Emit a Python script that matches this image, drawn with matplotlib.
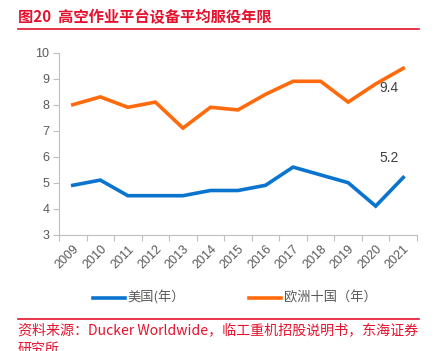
import matplotlib
matplotlib.use('Agg')
import matplotlib.pyplot as plt
from matplotlib.lines import Line2D

plt.rcParams['font.family'] = ['Noto Sans CJK SC', 'DejaVu Sans']

years = ['2009', '2010', '2011', '2012', '2013', '2014', '2015',
         '2016', '2017', '2018', '2019', '2020', '2021']
usa = [4.9, 5.1, 4.5, 4.5, 4.5, 4.7, 4.7, 4.9, 5.6, 5.3, 5.0, 4.1, 5.2]
europe = [8.0, 8.3, 7.9, 8.1, 7.1, 7.9, 7.8, 8.4, 8.9, 8.9, 8.1, 8.8, 9.4]

BLUE = '#0A74CF'
ORANGE = '#FF6A0D'
RED = '#E5122E'
GRAY = '#595959'
AXIS = '#BFBFBF'
NUMFONT = ['Liberation Sans', 'DejaVu Sans']

W, H = 441, 351
fig = plt.figure(figsize=(W / 100, H / 100), dpi=100)
ax = fig.add_axes([59 / W, 1 - 234.7 / H, (417 - 59) / W, (234.7 - 52.7) / H])

x = list(range(len(years)))
ax.plot(x, usa, color=BLUE, linewidth=2.6, solid_joinstyle='miter')
ax.plot(x, europe, color=ORANGE, linewidth=2.6, solid_joinstyle='miter')

ax.annotate(f'{europe[-1]:.1f}', (x[-1], europe[-1]), xytext=(-10, -14),
            textcoords='offset points', ha='center', va='center',
            fontsize=10, color='#404040', family=NUMFONT)
ax.annotate(f'{usa[-1]:.1f}', (x[-1], usa[-1]), xytext=(-10, 14),
            textcoords='offset points', ha='center', va='center',
            fontsize=10, color='#404040', family=NUMFONT)

ax.set_xlim(-0.5, len(years) - 0.5)
ax.set_ylim(3, 10)
ax.set_yticks(range(3, 11))
ax.set_xticks([i - 0.5 for i in range(len(years) + 1)])
ax.set_xticklabels([])
ax.set_xticks(x, minor=True)
ax.set_xticklabels(years, minor=True, rotation=45, ha='right',
                   rotation_mode='anchor', fontsize=9, color=GRAY, family=NUMFONT)
for lab in ax.get_yticklabels():
    lab.set_family(NUMFONT)
ax.tick_params(axis='x', which='minor', length=0, pad=6)
ax.tick_params(axis='x', which='major', length=4, color=AXIS, width=0.8)
ax.tick_params(axis='y', length=4, color=AXIS, width=0.8, labelsize=9,
               labelcolor=GRAY, pad=3)
for s in ['top', 'right']:
    ax.spines[s].set_visible(False)
for s in ['left', 'bottom']:
    ax.spines[s].set_color(AXIS)
    ax.spines[s].set_linewidth(0.8)

# title block
fig.text(18 / W, 1 - 17 / H, '图20  高空作业平台设备平均服役年限', fontsize=11,
         fontweight='bold', color=RED, ha='left', va='center')
fig.add_artist(Line2D([18 / W, 419 / W], [1 - 29 / H, 1 - 29 / H],
                      color=RED, linewidth=1.2))

# legend
ly = 1 - 298 / H
fig.add_artist(Line2D([93 / W, 125 / W], [ly, ly], color=BLUE, linewidth=2.6))
fig.text(127 / W, ly, '美国(年）', fontsize=9.5, color=GRAY, ha='left', va='center')
fig.add_artist(Line2D([249 / W, 281 / W], [ly, ly], color=ORANGE, linewidth=2.6))
fig.text(284 / W, ly, '欧洲十国（年）', fontsize=9.5, color=GRAY, ha='left', va='center')

# source
fig.add_artist(Line2D([18 / W, 419 / W], [1 - 318.5 / H, 1 - 318.5 / H],
                      color=RED, linewidth=1.2))
fig.text(18 / W, 1 - 331 / H, '资料来源：Ducker Worldwide，临工重机招股说明书，东海证券',
         fontsize=10.1, color=RED, ha='left', va='center')
fig.text(18 / W, 1 - 349 / H, '研究所', fontsize=10.1, color=RED, ha='left', va='center')

fig.savefig('out.png', dpi=100, facecolor='white')
